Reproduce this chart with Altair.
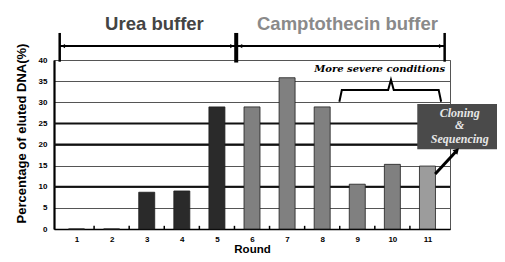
import altair as alt
import pandas as pd

# ---- data ----
rounds = [1, 2, 3, 4, 5, 6, 7, 8, 9, 10, 11]
values = [0, 0, 8.7, 9.0, 28.9, 28.9, 35.8, 28.9, 10.6, 15.3, 14.9]
groups = ["urea"] * 5 + ["campto"] * 5 + ["clone"]
y_ticks = [0, 5, 10, 15, 20, 25, 30, 35, 40]
strong_grid = [10, 20, 25]
boundaries = [1.5, 2.5, 3.5, 4.5, 5.5, 6.5, 7.5, 8.5, 9.5, 10.5]
box_lines = ["Cloning", "&", "Sequencing"]
box_line_y = [27.57, 24.5, 21.42]

SANS = "Liberation Sans"
SERIF = "Liberation Serif"

xs = alt.Scale(domain=[0.5, 11.5], nice=False, zero=False)
ys = alt.Scale(domain=[0, 40], nice=False)

AX = alt.Axis(values=rounds, format="d", grid=False, ticks=False, tickSize=0,
              domainColor="#000", domainWidth=1.5, labelFont=SANS,
              labelFontWeight="bold", labelFontSize=8, labelColor="#000",
              labelPadding=6, labelOverlap=False, title="Round", titleFont=SANS,
              titleFontWeight="bold", titleFontSize=11.5, titleColor="#000",
              titlePadding=0)
AY = alt.Axis(values=y_ticks, grid=True, gridColor="#555", gridWidth=1,
              ticks=False, tickSize=0, domainColor="#000", domainWidth=2.2,
              labelFont=SANS, labelFontWeight="bold", labelFontSize=8,
              labelColor="#000", labelPadding=7, labelOverlap=False,
              title="Percentage of eluted DNA(%)", titleFont=SANS,
              titleFontWeight="bold", titleFontSize=13, titleColor="#000",
              titleX=-33, titleY=73, titleAngle=-90, titleBaseline="middle")


def X(field):
    return alt.X(field, scale=xs, axis=AX)


def Y(field):
    return alt.Y(field, scale=ys, axis=AY)


bars_df = pd.DataFrame({"round": rounds, "value": values, "group": groups})

bars = alt.Chart(bars_df).mark_bar(size=16, stroke="#1e1e1e", strokeWidth=0.8).encode(
    x=X("round:Q"),
    y=Y("value:Q"),
    color=alt.Color("group:N", legend=None,
                    scale=alt.Scale(domain=["urea", "campto", "clone"],
                                    range=["#2a2a2a", "#808080", "#9c9c9c"])),
)

grid_df = pd.DataFrame({"y": strong_grid})
thick = alt.Chart(grid_df).mark_rule(color="#111", strokeWidth=2).encode(y=Y("y:Q"))

tick_df = pd.DataFrame({"x": boundaries, "y0": [0] * len(boundaries), "y1": [0.75] * len(boundaries)})
inner_ticks = alt.Chart(tick_df).mark_rule(color="#000", strokeWidth=1.5).encode(
    x=X("x:Q"), y=Y("y0:Q"), y2="y1:Q")

# top bracket: phases
bracket_df = pd.DataFrame({"x": [0.5], "x2": [11.5], "y": [43.3]})
bracket = alt.Chart(bracket_df).mark_rule(color="#000", strokeWidth=2).encode(
    x=X("x:Q"), x2="x2:Q", y=Y("y:Q"))

marks_df = pd.DataFrame({"x": [0.52, 5.55, 11.49], "y": [39.6, 39.4, 39.6],
                         "y2": [46.4, 46.4, 46.4], "w": [2.5, 4, 2.5]})
markers = alt.Chart(marks_df).mark_rule(color="#000").encode(
    x=X("x:Q"), y=Y("y:Q"), y2="y2:Q",
    strokeWidth=alt.StrokeWidth("w:Q", scale=None))

heads_df = pd.DataFrame({"x": [0.62, 5.43, 5.67, 11.38], "y": [43.3] * 4,
                         "shape": ["triangle-left", "triangle-right", "triangle-left", "triangle-right"]})
heads = alt.Chart(heads_df).mark_point(filled=True, color="#000", size=18, opacity=1).encode(
    x=X("x:Q"), y=Y("y:Q"), shape=alt.Shape("shape:N", scale=None))

phase_df = pd.DataFrame({"x": [3.22, 8.72], "y": [48.5, 48.5],
                         "label": ["Urea buffer", "Camptothecin buffer"],
                         "c": ["#444444", "#8a8a8a"]})
phase_text = alt.Chart(phase_df).mark_text(font=SANS, fontWeight="bold", fontSize=18.5,
                                           baseline="middle").encode(
    x=X("x:Q"), y=Y("y:Q"), text="label:N", color=alt.Color("c:N", scale=None))

severe_df = pd.DataFrame({"x": [9.64], "y": [37.9], "label": ["More severe conditions"]})
severe = alt.Chart(severe_df).mark_text(font="DejaVu Serif", fontWeight="bold", fontStyle="italic",
                                        fontSize=10, baseline="middle", color="#000").encode(
    x=X("x:Q"), y=Y("y:Q"), text="label:N")

brace_df = pd.DataFrame({
    "x": [8.49, 8.56, 9.88, 9.96, 10.04, 11.32, 11.39],
    "y": [30.1, 32.9, 32.9, 35.3, 32.9, 32.9, 30.1],
    "o": [0, 1, 2, 3, 4, 5, 6]})
brace = alt.Chart(brace_df).mark_line(color="#000", strokeWidth=2).encode(
    x=X("x:Q"), y=Y("y:Q"), order="o:Q")

box_df = pd.DataFrame({"x": [10.71], "x2": [13.03], "y": [29.6], "y2": [18.9]})
box = alt.Chart(box_df).mark_rect(color="#4a4a4a").encode(
    x=X("x:Q"), x2="x2:Q", y=Y("y:Q"), y2="y2:Q")

box_text_df = pd.DataFrame({"x": [11.92] * 3, "y": box_line_y, "label": box_lines})
box_text = alt.Chart(box_text_df).mark_text(font=SERIF, fontStyle="italic", fontWeight="bold",
                                            fontSize=12, color="#e6e6e6",
                                            baseline="middle").encode(
    x=X("x:Q"), y=Y("y:Q"), text="label:N")

arrow_df = pd.DataFrame({"x": [11.22, 11.8], "y": [13.0, 18.2], "o": [0, 1]})
arrow = alt.Chart(arrow_df).mark_line(color="#000", strokeWidth=3).encode(
    x=X("x:Q"), y=Y("y:Q"), order="o:Q")

arrowhead_df = pd.DataFrame({"x": [11.84], "y": [18.6]})
arrowhead = alt.Chart(arrowhead_df).mark_point(shape="triangle-up", filled=True, color="#000",
                                               size=45, angle=44, opacity=1).encode(
    x=X("x:Q"), y=Y("y:Q"))

chart = alt.layer(
    thick, bars, inner_ticks, bracket, markers, heads, phase_text, severe, brace,
    box, box_text, arrow, arrowhead
).properties(
    width=396, height=169,
    autosize=alt.AutoSizeParams(type="none"),
    padding={"left": 46, "top": 52, "right": 47, "bottom": 25},
    background="white",
).configure_view(stroke="#555", strokeWidth=1)

chart.save("out.html", embed_options={"renderer": "svg", "actions": False})
